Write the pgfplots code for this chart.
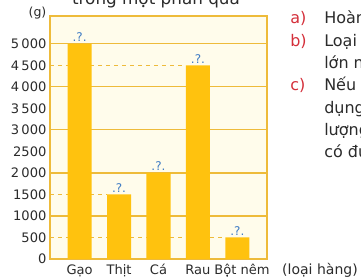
\documentclass[border=0pt]{standalone}
\usepackage{pgfplots}
\pgfplotsset{compat=1.18}
\usepackage{fontspec}
\setmainfont{DejaVu Sans}
\definecolor{barY}{HTML}{FFC20E}
\definecolor{frameY}{HTML}{EEBB3A}
\definecolor{bgY}{HTML}{FFFCEB}
\definecolor{qBlue}{HTML}{3F7CC4}
\definecolor{txt}{HTML}{2B2B2B}
\definecolor{redL}{HTML}{D42F3A}
\begin{document}
\begin{tikzpicture}
\useasboundingbox (0pt,0pt) rectangle (270.75pt,207.75pt);
\clip (0pt,0pt) rectangle (270.75pt,207.75pt);
\begin{axis}[
  at={(37.5pt,13.5pt)}, anchor=south west,
  scale only axis, width=162.75pt, height=182.25pt,
  xmin=-0.75, xmax=4.75, ymin=0, ymax=5650,
  axis background/.style={fill=bgY},
  axis line style={frameY, line width=1pt},
  major tick length=0pt,
  xtick={0,1,2,3,4},
  xticklabels={Gạo,Thịt,Cá,Rau\hspace{5pt},\hspace{7pt}Bột nêm},
  xticklabel style={anchor=base, yshift=-12pt, font=\fontsize{9.8}{11}\selectfont, text=txt},
  ytick={0,500,...,5000},
  yticklabels={0,500,1000,1500,2\,000,2500,3\,000,3\,500,4\,000,4\,500,5\,000},
  yticklabel style={font=\fontsize{9.8}{11}\selectfont, text=txt, inner sep=2.5pt},
  /pgf/number format/assume math mode=true,
  extra y ticks={1000,2000,3000,4000,5000},
  extra y tick labels={},
  extra y tick style={grid=major, major grid style={frameY, line width=0.8pt}},
  clip=false,
]
\addplot[frameY, dashed, line width=0.6pt, forget plot] coordinates {(-0.75,500) (3.695,500)};
\addplot[frameY, dashed, line width=0.6pt, forget plot] coordinates {(-0.75,1500) (0.695,1500)};
\addplot[frameY, dashed, line width=0.6pt, forget plot] coordinates {(-0.75,4500) (2.695,4500)};
\addplot[ybar, bar width=0.61, fill=barY, draw=none,
  nodes near coords={\textcolor{qBlue}{.?.}},
  nodes near coords style={font=\fontsize{9}{10}\selectfont, inner sep=1.5pt}]
  coordinates {(0,5000) (1,1500) (2,2000) (3,4500) (4,500)};
\end{axis}
\begin{scope}[x=0.75pt,y=0.75pt]
\node[anchor=base, font=\fontsize{12.6}{14}\selectfont, text=txt] at (156,272) {trong một phần quà};
\node[anchor=base, font=\fontsize{9.4}{11}\selectfont, text=txt] at (37.5,260) {(g)};
\node[anchor=base, font=\fontsize{10.5}{12}\selectfont, text=txt] at (320,2) {(loại hàng)};
\begin{scope}[font=\fontsize{12}{14}\selectfont]
\node[anchor=base west, inner sep=0pt, text=redL] at (290,253) {a)};
\node[anchor=base west, inner sep=0pt, text=redL] at (290,230.5) {b)};
\node[anchor=base west, inner sep=0pt, text=redL] at (290,186) {c)};
\node[anchor=base west, inner sep=0pt, text=txt] at (324,253) {Hoàn thành biểu đồ.};
\node[anchor=base west, inner sep=0pt, text=txt] at (324,230.5) {Loại hàng nào có khối lượng};
\node[anchor=base west, inner sep=0pt, text=txt] at (324,208.2) {lớn nhất?};
\node[anchor=base west, inner sep=0pt, text=txt] at (324,186) {Nếu mỗi phần quà sử};
\node[anchor=base west, inner sep=0pt, text=txt] at (324,163.8) {dụng hết số gạo thì khối};
\node[anchor=base west, inner sep=0pt, text=txt] at (324,141.6) {lượng gạo còn lại};
\node[anchor=base west, inner sep=0pt, text=txt] at (324,119.5) {có đủ cho phần quà khác?};
\end{scope}
\end{scope}
\end{tikzpicture}
\end{document}
